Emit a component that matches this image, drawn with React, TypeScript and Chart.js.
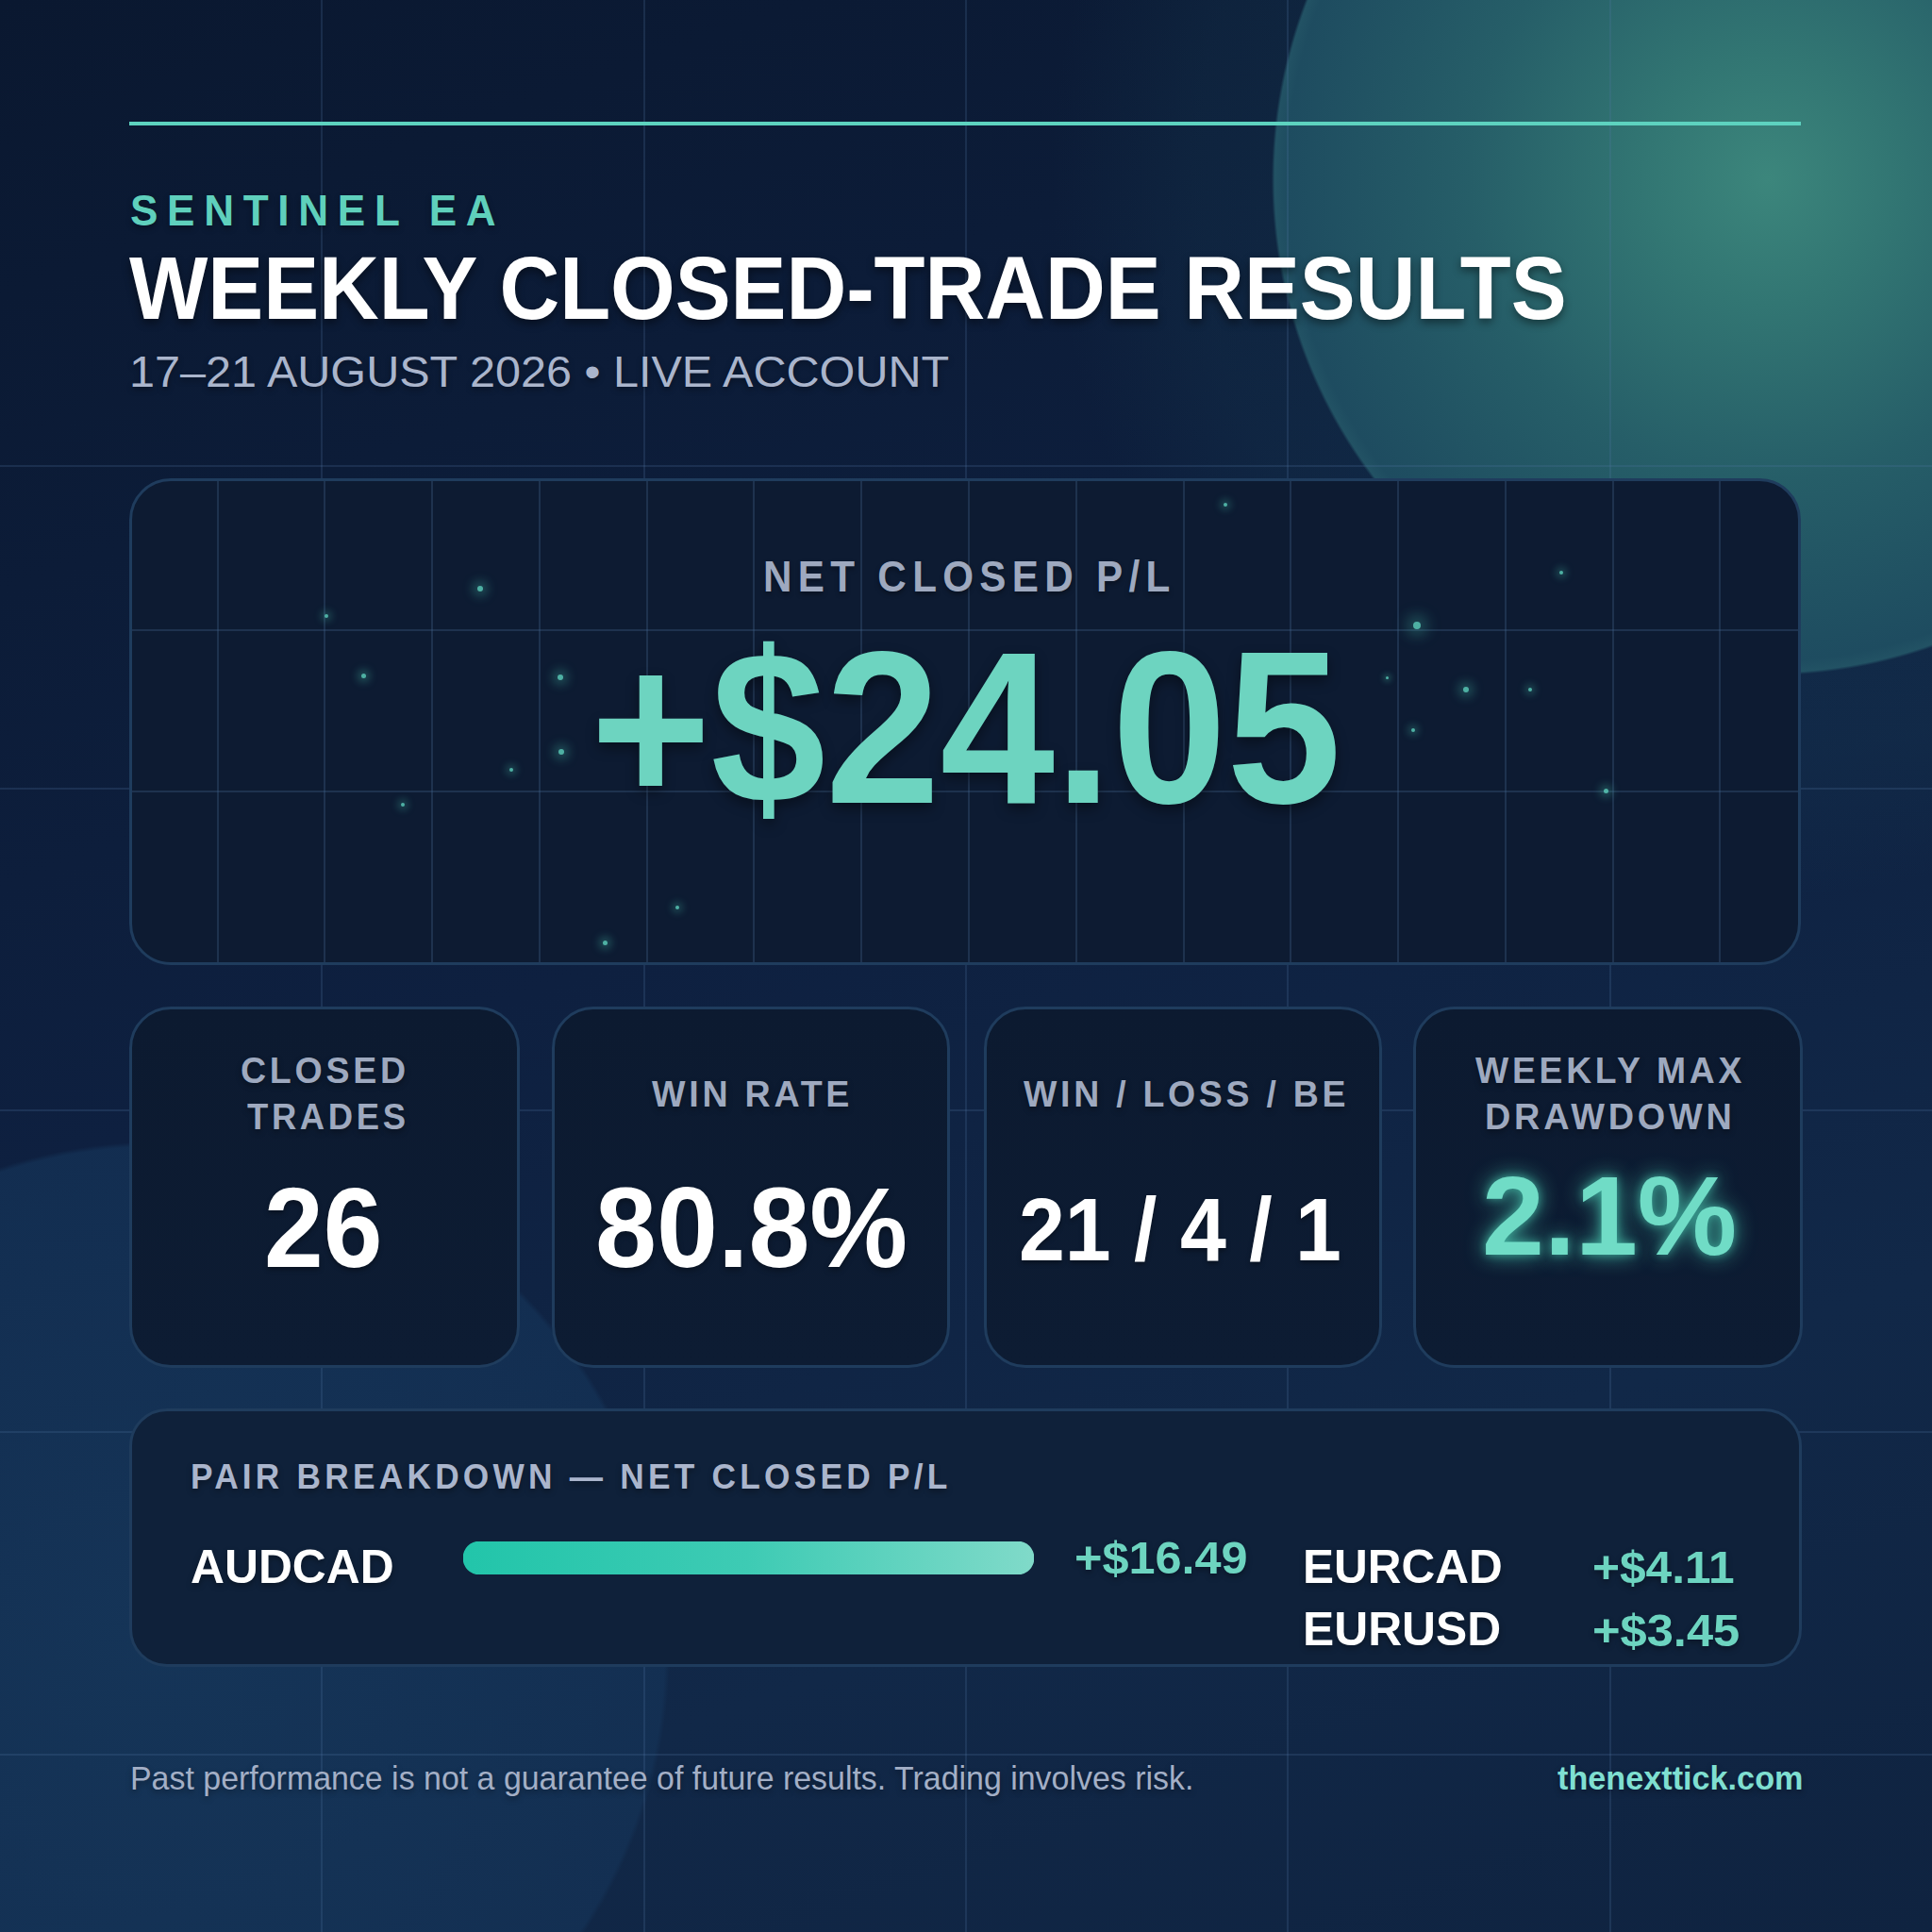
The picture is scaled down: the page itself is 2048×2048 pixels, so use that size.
import React, { useEffect, useLayoutEffect, useRef } from "react";
import { Chart, registerables } from "chart.js";

Chart.register(...registerables);

// ---------------- DATA ----------------
const brand = "SENTINEL EA";
const title = "WEEKLY CLOSED-TRADE RESULTS";
const subtitle = "17–21 AUGUST 2026 • LIVE ACCOUNT";
const heroLabel = "NET CLOSED P/L";
const netClosedPL = 24.05;
const statLabels = [["CLOSED", "TRADES"], ["WIN RATE"], ["WIN / LOSS / BE"], ["WEEKLY MAX", "DRAWDOWN"]];
const closedTrades = 26;
const winRate = 80.8;
const winLossBE = [21, 4, 1];
const maxDrawdown = 2.1;
const pairTitle = "PAIR BREAKDOWN — NET CLOSED P/L";
const pairs = ["AUDCAD", "EURCAD", "EURUSD"];
const pairValues = [16.49, 4.11, 3.45];
const disclaimer = "Past performance is not a guarantee of future results. Trading involves risk.";
const site = "thenexttick.com";

// ---------------- STYLE / LAYOUT ----------------
const FONT = '"Liberation Sans", Arial, Helvetica, sans-serif';
const TEAL = "#6dd4c0";
const LABEL = "#9ea9bf";
const WHITE = "#ffffff";
const PANEL_BG = "#0d1b32";
const PANEL_BORDER = "#1f3c5d";

const money = (v: number) => `+$${v.toFixed(2)}`;

function Txt(props: any) {
  const { x, w, base, size, weight = 700, color, ls = 0, shadow, children } = props;
  const ref = useRef<HTMLDivElement>(null);
  useLayoutEffect(() => {
    const el = ref.current;
    if (!el) return;
    const fit = () => {
      el.style.transform = "none";
      const nat = el.offsetWidth - ls * size;
      if (nat > 0) el.style.transform = `scaleX(${w / nat})`;
    };
    fit();
    const f: any = (document as any).fonts;
    if (f && f.ready) f.ready.then(fit);
  }, [w, ls, size]);
  return (
    <div
      ref={ref}
      style={{
        position: "absolute",
        left: x,
        top: base - 0.8465 * size,
        fontFamily: FONT,
        fontSize: size,
        lineHeight: `${size}px`,
        fontWeight: weight,
        color,
        letterSpacing: `${ls}em`,
        whiteSpace: "nowrap",
        transformOrigin: "0 0",
        textShadow: shadow || "0 3px 6px rgba(0,0,0,0.35)",
      }}
    >
      {children}
    </div>
  );
}

function PairBar() {
  const ref = useRef<HTMLCanvasElement>(null);
  useEffect(() => {
    if (!ref.current) return;
    const chart = new Chart(ref.current, {
      type: "bar",
      data: {
        labels: pairs.slice(0, 1),
        datasets: [
          {
            data: pairValues.slice(0, 1),
            backgroundColor: (ctx: any) => {
              const ch = ctx.chart;
              const area = ch.chartArea;
              if (!area) return "#2cc7ad";
              const g = ch.ctx.createLinearGradient(area.left, 0, area.right, 0);
              g.addColorStop(0, "#22c5aa");
              g.addColorStop(0.5, "#3ecbb4");
              g.addColorStop(1, "#80dac9");
              return g;
            },
            borderRadius: 18,
            borderSkipped: false,
            barPercentage: 1,
            categoryPercentage: 1,
          },
        ],
      },
      options: {
        indexAxis: "y",
        responsive: false,
        maintainAspectRatio: false,
        animation: false,
        layout: { padding: 0 },
        plugins: { legend: { display: false }, tooltip: { enabled: false } },
        scales: {
          x: { display: false, min: 0, max: Math.max(...pairValues) },
          y: { display: false },
        },
      },
    });
    return () => chart.destroy();
  }, []);
  return (
    <div style={{ position: "absolute", left: 491, top: 1634, width: 605, height: 35 }}>
      <canvas ref={ref} width={605} height={35} style={{ width: 605, height: 35, display: "block" }} />
    </div>
  );
}

const cards = [
  { x: 137, w: 414 },
  { x: 585, w: 422 },
  { x: 1043, w: 422 },
  { x: 1498, w: 413 },
];

const stars = [
  [1299, 535, 2], [1655, 607, 2], [1502, 663, 4], [346, 653, 2], [385, 716, 2.5], [594, 718, 3],
  [1554, 731, 3], [1622, 731, 2], [595, 797, 3], [542, 816, 2], [1498, 774, 2], [427, 853, 2],
  [1702, 838, 2.5], [718, 962, 2], [641, 999, 2.5], [509, 624, 3], [1470, 718, 1.5],
];

export default function App() {
  useEffect(() => {
    document.body.style.margin = "0";
  }, []);

  const outerV = [1, 2, 3, 4, 5].map((k) => (k * 2048) / 6);
  const outerH = [1, 2, 3, 4, 5].map((k) => 153 + (k * 2048) / 6);
  const innerV: number[] = [];
  for (let k = 2; k <= 16; k++) innerV.push((k * 2048) / 18 - 137);
  const innerH = [665 - 507, 836 - 507];

  const line = "rgba(80,120,165,0.22)";
  const innerLine = "rgba(70,105,145,0.30)";

  return (
    <div
      style={{
        position: "absolute",
        left: 0,
        top: 0,
        width: 2048,
        height: 2048,
        overflow: "hidden",
        fontFamily: FONT,
        background: [
          "radial-gradient(circle 526px at 1874px 190px, rgba(60,134,124,1) 0%, rgba(50,118,115,1) 25%, rgba(38,94,104,1) 60%, rgba(30,76,96,1) 97%, rgba(34,82,100,1) 99.4%, rgba(30,76,96,0) 100%)",
          "radial-gradient(circle 760px at 1874px 190px, rgba(30,80,100,0.30) 0%, rgba(30,80,100,0.15) 80%, rgba(30,80,100,0) 100%)",
          "radial-gradient(circle 540px at 170px 1750px, rgba(22,56,92,0.8) 0%, rgba(20,50,86,0.75) 99%, rgba(20,50,86,0) 100%)",
          "linear-gradient(160deg, #0a1830 0%, #0e2040 45%, #112848 75%, #0f2340 100%)",
        ].join(","),
      }}
    >
      {/* background grid */}
      {outerV.map((x, i) => (
        <div key={"v" + i} style={{ position: "absolute", left: x - 1, top: 0, width: 2, height: 2048, background: line }} />
      ))}
      {outerH.map((y, i) => (
        <div key={"h" + i} style={{ position: "absolute", left: 0, top: y - 1, width: 2048, height: 2, background: line }} />
      ))}

      {/* top rule */}
      <div style={{ position: "absolute", left: 137, top: 129, width: 1772, height: 4, background: "#5dd2bf" }} />

      {/* hero panel */}
      <div
        style={{
          position: "absolute",
          left: 137,
          top: 507,
          width: 1772,
          height: 516,
          borderRadius: 44,
          border: `3px solid ${PANEL_BORDER}`,
          background: PANEL_BG,
          boxSizing: "border-box",
          overflow: "hidden",
        }}
      >
        {innerV.map((x, i) => (
          <div key={"iv" + i} style={{ position: "absolute", left: x - 1, top: 0, width: 2, height: 520, background: innerLine }} />
        ))}
        {innerH.map((y, i) => (
          <div key={"ih" + i} style={{ position: "absolute", left: 0, top: y - 1, width: 1780, height: 2, background: innerLine }} />
        ))}
      </div>
      {stars.map(([x, y, r], i) => (
        <div
          key={"s" + i}
          style={{
            position: "absolute",
            left: x - r,
            top: y - r,
            width: r * 2,
            height: r * 2,
            borderRadius: "50%",
            background: "#5fd6c0",
            boxShadow: `0 0 ${r * 4}px ${r * 1.5}px rgba(80,210,185,0.45)`,
            opacity: 0.8,
          }}
        />
      ))}

      {/* stat cards */}
      {cards.map((c, i) => (
        <div
          key={"c" + i}
          style={{
            position: "absolute",
            left: c.x,
            top: 1067,
            width: c.w,
            height: 383,
            borderRadius: 44,
            border: `3px solid ${PANEL_BORDER}`,
            background: "linear-gradient(180deg, #0c1a30 0%, #0d1c33 100%)",
            boxSizing: "border-box",
          }}
        />
      ))}

      {/* pair panel */}
      <div
        style={{
          position: "absolute",
          left: 137,
          top: 1493,
          width: 1773,
          height: 274,
          borderRadius: 40,
          border: `3px solid ${PANEL_BORDER}`,
          background: "#0f213a",
          boxSizing: "border-box",
        }}
      />

      {/* header text */}
      <Txt x={138} w={388} base={239} size={46} color="#5fd0bc" ls={0.22}>{brand}</Txt>
      <Txt x={137} w={1524} base={339} size={94} color={WHITE} shadow="0 4px 10px rgba(0,0,0,0.45)">{title}</Txt>
      <Txt x={137} w={869} base={410} size={46} weight={400} color="#aab5cc">{subtitle}</Txt>

      {/* hero */}
      <Txt x={809} w={431} base={627} size={46} color={LABEL} ls={0.15}>{heroLabel}</Txt>
      <Txt x={626} w={796} base={852} size={230} color={TEAL} shadow="0 6px 14px rgba(0,0,0,0.4)">{money(netClosedPL)}</Txt>

      {/* stat labels */}
      <Txt x={255} w={175} base={1148} size={38} color={LABEL} ls={0.1}>{statLabels[0][0]}</Txt>
      <Txt x={262} w={168} base={1197} size={38} color={LABEL} ls={0.1}>{statLabels[0][1]}</Txt>
      <Txt x={691} w={209} base={1173} size={38} color={LABEL} ls={0.1}>{statLabels[1][0]}</Txt>
      <Txt x={1085} w={341} base={1173} size={38} color={LABEL} ls={0.1}>{statLabels[2][0]}</Txt>
      <Txt x={1564} w={282} base={1148} size={38} color={LABEL} ls={0.1}>{statLabels[3][0]}</Txt>
      <Txt x={1574} w={262} base={1197} size={38} color={LABEL} ls={0.1}>{statLabels[3][1]}</Txt>

      {/* stat values */}
      <Txt x={280} w={125} base={1343} size={120} color={WHITE}>{String(closedTrades)}</Txt>
      <Txt x={631} w={331} base={1343} size={120} color={WHITE}>{`${winRate.toFixed(1)}%`}</Txt>
      <Txt x={1080} w={342} base={1337} size={94} color={WHITE}>{winLossBE.join(" / ")}</Txt>
      <Txt
        x={1571}
        w={270}
        base={1330}
        size={119}
        color="#70dcc6"
        shadow="0 0 22px rgba(80,220,190,0.75), 0 0 8px rgba(80,220,190,0.5)"
      >{`${maxDrawdown.toFixed(1)}%`}</Txt>

      {/* pair breakdown */}
      <Txt x={202} w={802} base={1578} size={36} color="#aab5cc" ls={0.12}>{pairTitle}</Txt>
      <Txt x={202} w={216} base={1678} size={50} color={WHITE}>{pairs[0]}</Txt>
      <PairBar />
      <Txt x={1139} w={184} base={1668} size={49} color={TEAL}>{money(pairValues[0])}</Txt>
      <Txt x={1381} w={212} base={1678} size={50} color={WHITE}>{pairs[1]}</Txt>
      <Txt x={1688} w={151} base={1678} size={49} color={TEAL}>{money(pairValues[1])}</Txt>
      <Txt x={1381} w={210} base={1744} size={50} color={WHITE}>{pairs[2]}</Txt>
      <Txt x={1688} w={156} base={1745} size={49} color={TEAL}>{money(pairValues[2])}</Txt>

      {/* footer */}
      <Txt x={138} w={1127} base={1897} size={35} weight={400} color="#a3afc6">{disclaimer}</Txt>
      <Txt x={1651} w={260} base={1897} size={35} color="#7fdfd1">{site}</Txt>
    </div>
  );
}
